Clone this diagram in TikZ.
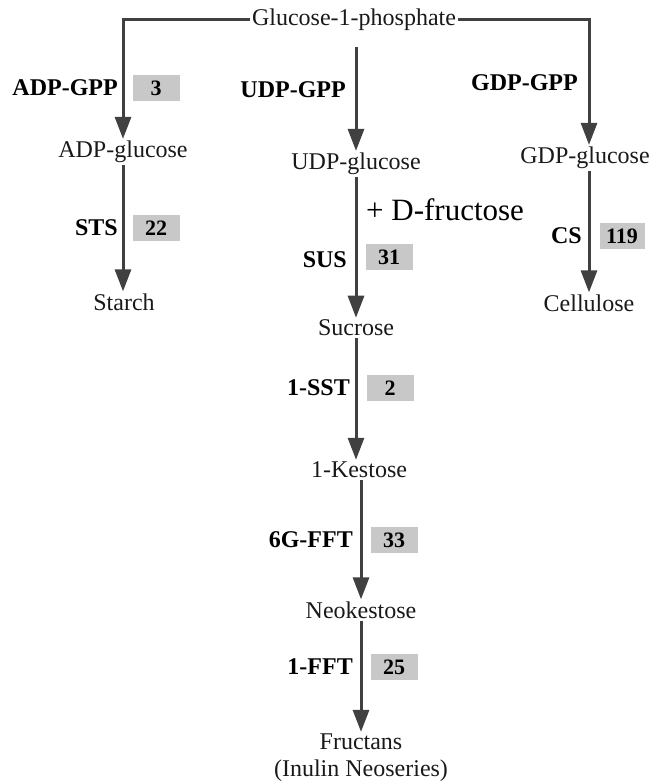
\documentclass[tikz,border=0pt]{standalone}
\usepackage{fontspec}
\setmainfont{Liberation Serif}
\usetikzlibrary{arrows.meta}
\definecolor{linegray}{HTML}{404040}
\definecolor{boxgray}{HTML}{C8C8C8}
\begin{document}
\begin{tikzpicture}[x=1pt,y=-1pt,
  comp/.style={font=\fontsize{24}{27}\selectfont, inner sep=2pt, text=black!90},
  enz/.style={font=\bfseries\fontsize{24}{27}\selectfont, inner sep=0pt, anchor=east},
  num/.style={fill=boxgray, font=\bfseries\fontsize{22}{24}\selectfont, minimum width=47pt, minimum height=26pt, inner sep=0pt},
  flow/.style={draw=linegray, line width=3pt, -{Triangle[width=16pt,length=22pt]}},
]
\useasboundingbox (0,0) rectangle (649,784);
% compounds
\node[comp] (g1p) at (354,20) {Glucose-1-phosphate};
\node[comp] (adp) at (123,152) {ADP-glucose};
\node[comp] (udp) at (356,164) {UDP-glucose};
\node[comp, inner xsep=0pt] (gdp) at (585,158) {GDP-glucose};
\node[comp] (starch) at (124,302) {Starch};
\node[comp] (suc) at (356,328) {Sucrose};
\node[comp] (cell) at (589,303) {Cellulose};
\node[comp] (kest) at (359,470) {1-Kestose};
\node[comp] (neo) at (361,610) {Neokestose};
\node[comp, align=center, inner sep=0pt] (fru) at (361,758) {Fructans\\(Inulin Neoseries)};
% connectors
\draw[flow] (g1p.west) -| (adp.north);
\draw[flow] (g1p.east) -| ([xshift=4pt]gdp.north);
\draw[flow] ([yshift=-14pt]g1p.south -| udp.north) -- (udp.north);
\draw[flow] (adp.south) -- (adp.south |- starch.north);
\draw[flow] ([xshift=4pt]gdp.south) -- ([xshift=4pt]gdp.south |- cell.north);
\draw[flow] (udp.south) -- (udp.south |- suc.north);
\draw[flow] (suc.south) -- (suc.south |- kest.north);
\draw[flow] (kest.south -| neo.south) -- (neo.north);
\draw[flow] (neo.south) -- ([yshift=2pt]neo.south |- fru.north);
% enzyme labels
\node[enz] (e1) at (118,88) {ADP-GPP};
\node[num] (n1) at (156,88) {3};
\node[enz] (e2) at (346,90) {UDP-GPP};
\node[enz] (e3) at (578,83) {GDP-GPP};
\node[enz] (e4) at (118,228) {STS};
\node[num] (n4) at (156,228) {22};
\node[enz] (e5) at (347,260) {SUS};
\node[num] (n5) at (389,257) {31};
\node[font=\fontsize{31}{34}\selectfont, anchor=west, inner sep=0pt] (fr) at (366,210) {+ D-fructose};
\node[enz] (e6) at (582,236) {CS};
\node[num, minimum width=45pt] (n6) at (622,236) {119};
\node[enz] (e7) at (350,388) {1-SST};
\node[num] (n7) at (390,388) {2};
\node[enz] (e8) at (353,540) {6G-FFT};
\node[num] (n8) at (394,540) {33};
\node[enz] (e9) at (353,667) {1-FFT};
\node[num] (n9) at (394,667) {25};
\end{tikzpicture}
\end{document}
